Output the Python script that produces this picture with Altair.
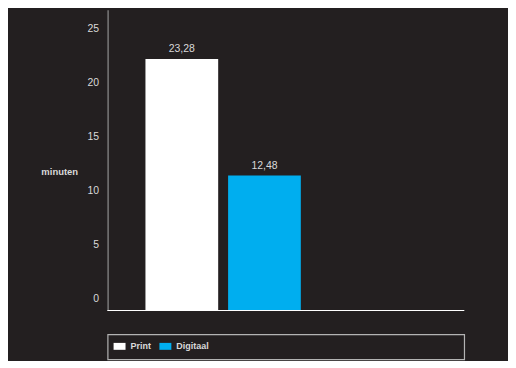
import altair as alt
import pandas as pd

categories = ["Print", "Digitaal"]
minutes = [23.28, 12.48]
y_ticks = [0, 5, 10, 15, 20, 25]
colors = ["#ffffff", "#00aeef"]

df = pd.DataFrame({"medium": categories, "minuten": minutes})

FONT = "Liberation Sans, Arial, sans-serif"
TXT = "#d9d9d9"
BG = "#231f20"

color_scale = alt.Scale(domain=categories, range=colors)

x_scale = alt.Scale(range=[38, 194], paddingInner=0.12, paddingOuter=0)
x_enc = alt.X("medium:N", sort=categories, scale=x_scale, axis=None)
y_enc = alt.Y(
    "minuten:Q",
    scale=alt.Scale(domain=[0, 27.83], nice=False),
    axis=alt.Axis(
        values=y_ticks, ticks=False, grid=False, domainColor="#8f8f8f", domainWidth=1.2,
        labelColor=TXT, labelFontSize=10.5, labelPadding=9, labelOffset=-12,
        title="minuten", titleAngle=0, titleAlign="left", titleBaseline="middle",
        titleX=-67, titleY=162, titleColor=TXT, titleFontWeight="bold", titleFontSize=9.5,
    ),
)

bars = alt.Chart(df).mark_bar().encode(
    x=x_enc,
    y=y_enc,
    color=alt.Color("medium:N", sort=categories, scale=color_scale, legend=None),
)
labels = alt.Chart(df).mark_text(dy=-10, color=TXT, fontSize=10.5, baseline="middle").encode(
    x=alt.X("medium:N", sort=categories),
    y=alt.Y("minuten:Q"),
    text=alt.Text("minuten:Q", format=".2f"),
)
baseline = alt.Chart(df).mark_rule(color="#ffffff", strokeWidth=1.2).encode(y=alt.datum(0))
top = alt.layer(bars, labels, baseline).properties(width=358, height=302)

legend_chart = alt.Chart(df).mark_square(opacity=0).encode(
    color=alt.Color(
        "medium:N", sort=categories, scale=color_scale,
        legend=alt.Legend(
            title=None, orient="top-left", direction="horizontal", offset=6, padding=0,
            symbolType="M-1,-0.58H1V0.58H-1Z", symbolSize=144, symbolOpacity=1,
            symbolStrokeWidth=0, labelColor=TXT, labelFont=FONT, labelFontSize=9,
            labelFontWeight="bold", labelOffset=5, columnPadding=8,
        ),
    )
).properties(width=358, height=25, view=alt.ViewBackground(stroke="#b3b3b3", strokeWidth=1.2))

chart = (
    alt.vconcat(top, legend_chart, spacing=24, bounds="flush")
    .resolve_legend(color="independent")
    .properties(padding={"left": 32, "top": 0, "right": 42, "bottom": 0})
    .configure(
        background=BG,
        font=FONT,
        locale={"number": {"decimal": ",", "thousands": ".", "grouping": [3], "currency": ["", " €"]}},
    )
    .configure_view(stroke="transparent")
    .configure_axis(labelFont=FONT, titleFont=FONT)
)

chart.save("out.html", embed_options={"renderer": "svg", "actions": False})
